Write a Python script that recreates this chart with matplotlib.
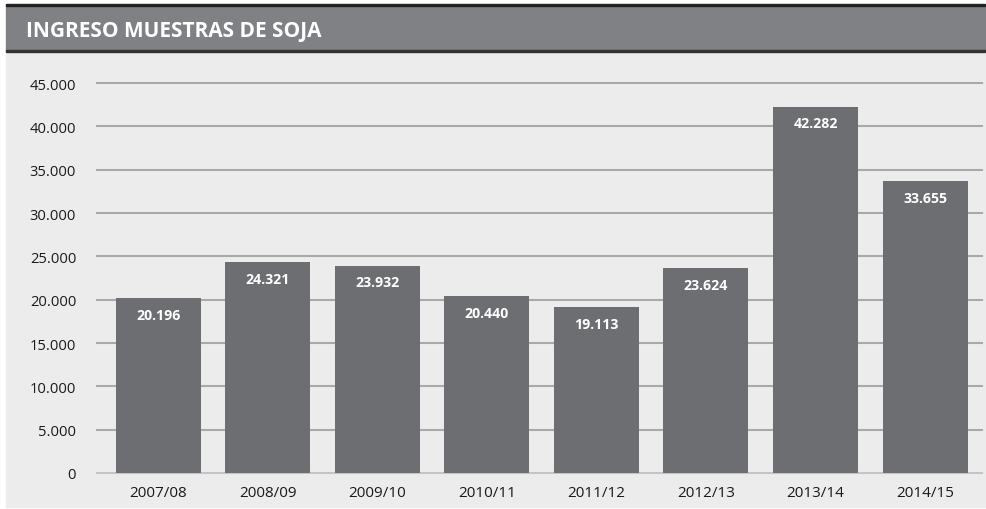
import matplotlib
matplotlib.use("Agg")
from matplotlib import pyplot as plt
from matplotlib.patches import Rectangle
from matplotlib.ticker import FuncFormatter

campaigns = ["2007/08", "2008/09", "2009/10", "2010/11", "2011/12", "2012/13", "2013/14", "2014/15"]
samples = [20196, 24321, 23932, 20440, 19113, 23624, 42282, 33655]
yticks = [0, 5000, 10000, 15000, 20000, 25000, 30000, 35000, 40000, 45000]

W, H = 987, 510
plt.rcParams["font.family"] = ["Open Sans", "DejaVu Sans"]

fig = plt.figure(figsize=(W / 100, H / 100), dpi=100, facecolor="white")


def fr(x0, y0, x1, y1, color):
    # rectangle given in pixel coords (top-left origin)
    fig.patches.append(Rectangle((x0 / W, 1 - y1 / H), (x1 - x0) / W, (y1 - y0) / H,
                                 transform=fig.transFigure, color=color, zorder=-5))


fr(6, 52, 985, 508, "#ececec")
fr(6, 6, 985, 52, "#808184")
fr(6, 5, 985, 7, "#222222")
fr(6, 51, 985, 53, "#333333")
fig.text(26 / W, 1 - 31 / H, "INGRESO MUESTRAS DE SOJA", color="white",
         fontsize=15, fontweight="bold", va="center", ha="left")

ax = fig.add_axes([97 / W, 1 - 474 / H, (982 - 97) / W, (474 - 84) / H])
ax.set_facecolor("none")
x = range(len(campaigns))
bars = ax.bar(x, samples, width=0.776, color="#6d6e71", zorder=3)
ax.set_xlim(-0.56, len(campaigns) - 0.48)
ax.set_ylim(0, 45000)
ax.set_yticks(yticks)
ax.yaxis.set_major_formatter(FuncFormatter(lambda v, p: f"{int(v):,}".replace(",", ".")))
ax.set_xticks(list(x))
ax.set_xticklabels(campaigns)
for s in ax.spines.values():
    s.set_visible(False)
ax.tick_params(axis="both", length=0, colors="#1a1a1a")
ax.tick_params(axis="y", pad=15, labelsize=10.6)
ax.tick_params(axis="x", pad=9, labelsize=11)
for t in yticks:
    ax.axhline(t, color="#c4c4c4" if t == 0 else "#a9a9a9", lw=1.5, zorder=1, clip_on=False)

for b, v in zip(bars, samples):
    ax.annotate(f"{v:,}".replace(",", "."), (b.get_x() + b.get_width() / 2, v),
                xytext=(0, -12), textcoords="offset points", ha="center", va="center",
                color="white", fontweight="bold", fontsize=10.2, zorder=4)

fig.savefig("out.png", dpi=100, facecolor="white")
